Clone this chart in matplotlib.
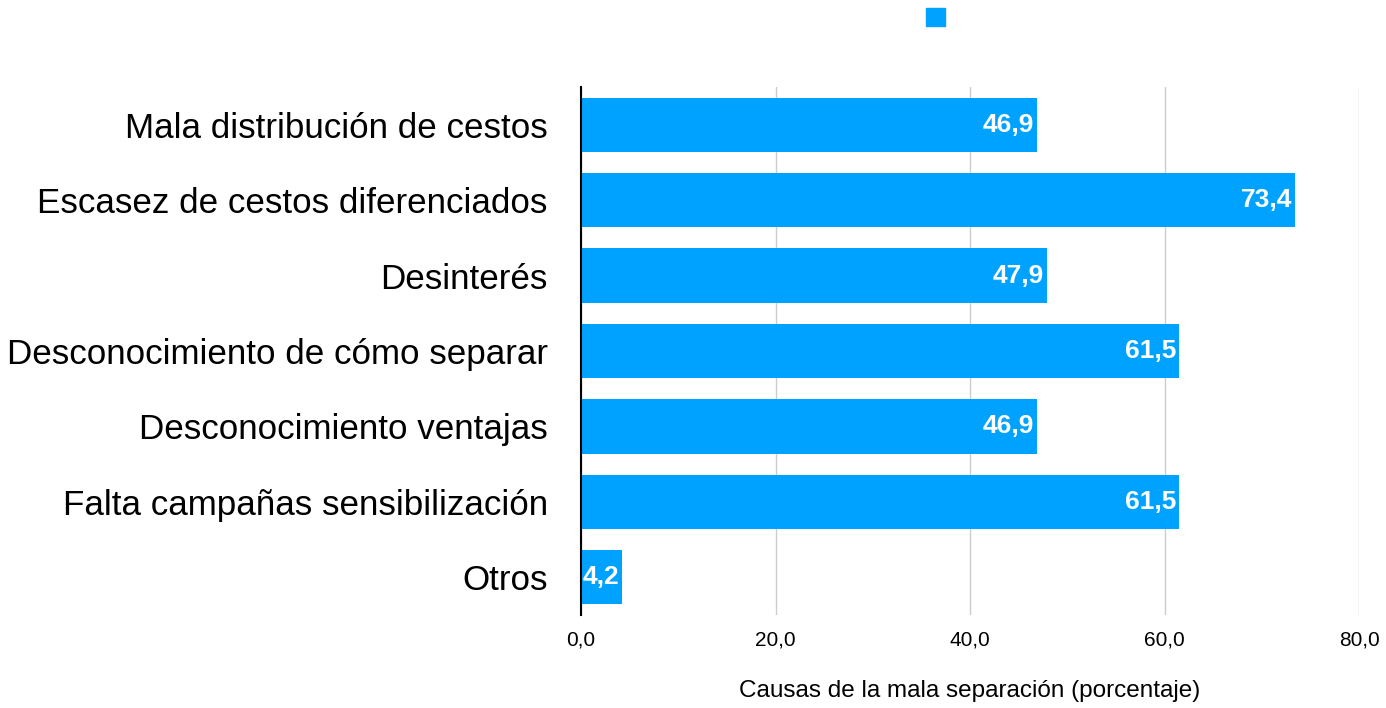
import matplotlib
matplotlib.use("Agg")
import matplotlib.pyplot as plt
from matplotlib.patches import Patch
from matplotlib.ticker import FuncFormatter, MultipleLocator

categories = ["Mala distribución de cestos", "Escasez de cestos diferenciados", "Desinterés",
              "Desconocimiento de cómo separar", "Desconocimiento ventajas",
              "Falta campañas sensibilización", "Otros"]
values = [46.9, 73.4, 47.9, 61.5, 46.9, 61.5, 4.2]
xlabel = "Causas de la mala separación (porcentaje)"
color = "#00A2FF"

plt.rcParams['font.family'] = ['Liberation Sans', 'DejaVu Sans']

fig = plt.figure(figsize=(13.86, 7.08), dpi=100)
ax = fig.add_axes([581/1386, 1-615/708, (1359-581)/1386, (615-87)/708])

y = list(range(len(categories)))
bars = ax.barh(y, values, height=0.72, color=color, zorder=3)
ax.set_ylim(len(categories)-0.5, -0.5)
ax.set_xlim(0, 80)
ax.set_yticks(y)
ax.set_yticklabels(categories, fontsize=25.2)
ax.xaxis.set_major_locator(MultipleLocator(20))
ax.xaxis.set_major_formatter(FuncFormatter(lambda v, p: f"{v:.1f}".replace('.', ',')))
ax.tick_params(axis='x', labelsize=15, length=0, pad=11)
ax.tick_params(axis='y', length=0, pad=24)
for s in ['top', 'right', 'bottom']:
    ax.spines[s].set_visible(False)
ax.spines['left'].set_color('black')
ax.spines['left'].set_linewidth(1.5)
ax.spines['left'].set_zorder(4)
ax.grid(axis='x', color='#cccccc', linewidth=1, zorder=0)
ax.set_xlabel(xlabel, fontsize=17.5, labelpad=22)

for b, v in zip(bars, values):
    ax.annotate(f"{v:.1f}".replace('.', ','), xy=(v, b.get_y()+b.get_height()/2),
                xytext=(-2, 0), textcoords='offset points', ha='right', va='center',
                color='white', fontsize=19, fontweight='bold', zorder=5)

fig.legend(handles=[Patch(color=color)], labels=[' '], loc='upper center',
           bbox_to_anchor=(935/1386+0.008, 1.013), frameon=False, handlelength=1.0,
           handleheight=1.0, fontsize=14)

fig.savefig("out.png", dpi=100)
